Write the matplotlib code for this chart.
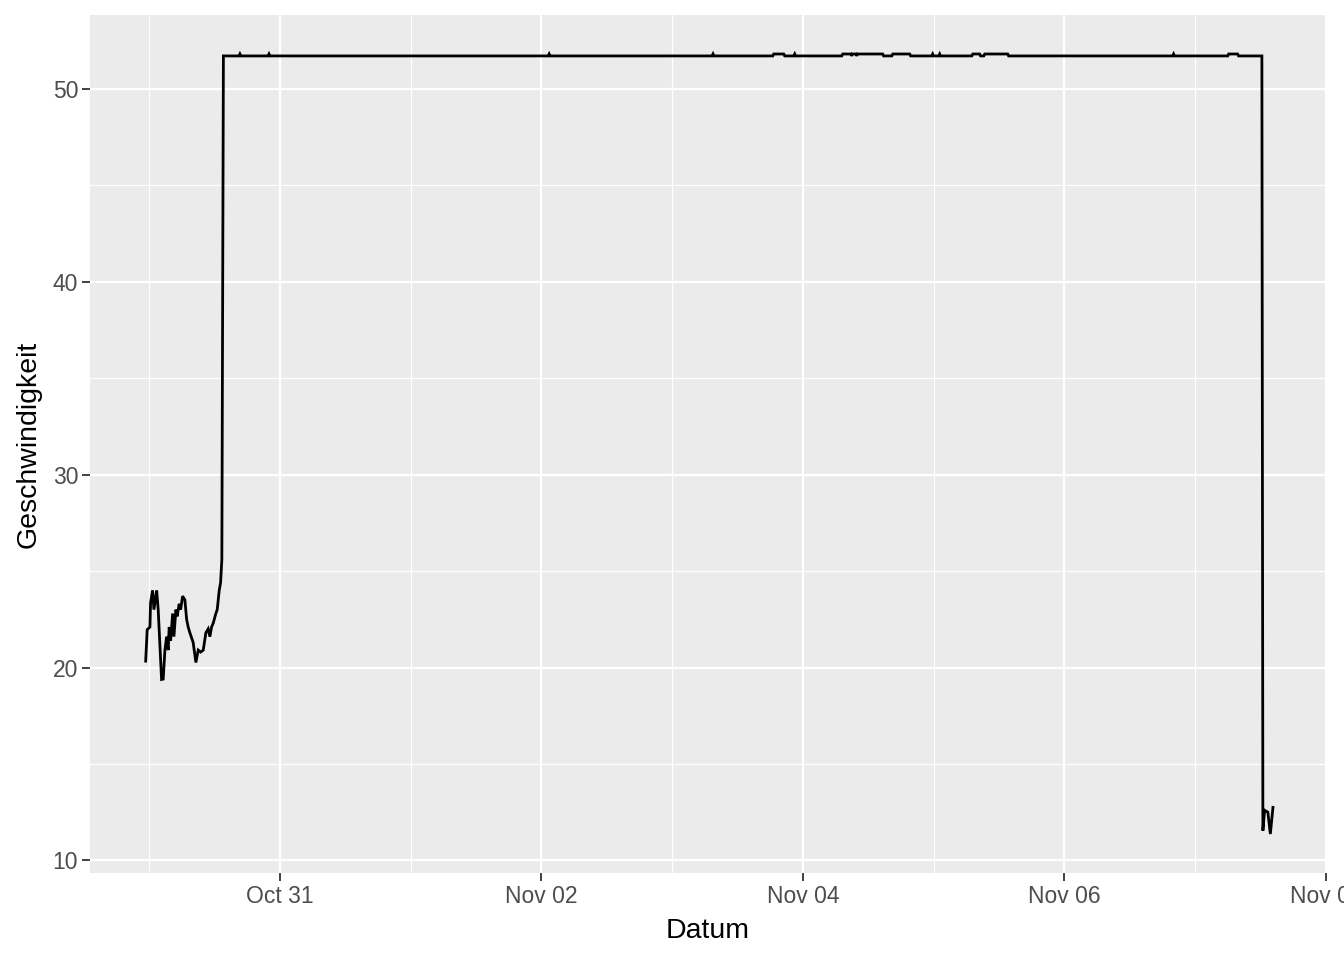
import matplotlib
matplotlib.use("Agg")
import matplotlib.pyplot as plt
import matplotlib.dates as mdates
import numpy as np
import pandas as pd

# ---- data ----
times = [
    "2023-10-29 23:22", "2023-10-29 23:39", "2023-10-30 00:09", "2023-10-30 00:16",
    "2023-10-30 00:38", "2023-10-30 00:53", "2023-10-30 01:23", "2023-10-30 01:40",
    "2023-10-30 02:17", "2023-10-30 02:35", "2023-10-30 02:54", "2023-10-30 03:13",
    "2023-10-30 03:30", "2023-10-30 03:41", "2023-10-30 03:57", "2023-10-30 04:19",
    "2023-10-30 04:33", "2023-10-30 04:55", "2023-10-30 05:09", "2023-10-30 05:31",
    "2023-10-30 05:47", "2023-10-30 06:09", "2023-10-30 06:34", "2023-10-30 06:53",
    "2023-10-30 07:10", "2023-10-30 07:29", "2023-10-30 08:05", "2023-10-30 08:35",
    "2023-10-30 09:01", "2023-10-30 09:27", "2023-10-30 09:56", "2023-10-30 10:25",
    "2023-10-30 10:50", "2023-10-30 11:09", "2023-10-30 11:28", "2023-10-30 11:46",
    "2023-10-30 12:15", "2023-10-30 12:30", "2023-10-30 12:52", "2023-10-30 13:07",
    "2023-10-30 13:21", "2023-10-30 13:38",
    "2023-10-30 16:30", "2023-10-30 16:40", "2023-10-30 16:50",
    "2023-10-30 21:50", "2023-10-30 22:00", "2023-10-30 22:10",
    "2023-11-02 01:15", "2023-11-02 01:25", "2023-11-02 01:35",
    "2023-11-03 07:20", "2023-11-03 07:30", "2023-11-03 07:40",
    "2023-11-03 18:28", "2023-11-03 18:38", "2023-11-03 20:29", "2023-11-03 20:39",
    "2023-11-03 22:20", "2023-11-03 22:30", "2023-11-03 22:40",
    "2023-11-04 07:08", "2023-11-04 07:18", "2023-11-04 08:50", "2023-11-04 08:57",
    "2023-11-04 09:04", "2023-11-04 09:45", "2023-11-04 09:52", "2023-11-04 09:59",
    "2023-11-04 14:38", "2023-11-04 14:48",
    "2023-11-04 16:19", "2023-11-04 16:29", "2023-11-04 19:36", "2023-11-04 19:46",
    "2023-11-04 23:39", "2023-11-04 23:49", "2023-11-04 23:59",
    "2023-11-05 00:56", "2023-11-05 01:06", "2023-11-05 01:16",
    "2023-11-05 07:00", "2023-11-05 07:10", "2023-11-05 08:26", "2023-11-05 08:36",
    "2023-11-05 09:12", "2023-11-05 09:22", "2023-11-05 13:35", "2023-11-05 13:45",
    "2023-11-06 19:52", "2023-11-06 20:02", "2023-11-06 20:12",
    "2023-11-07 05:58", "2023-11-07 06:08", "2023-11-07 07:47", "2023-11-07 07:57",
    "2023-11-07 12:14", "2023-11-07 12:25", "2023-11-07 12:44", "2023-11-07 13:20",
    "2023-11-07 13:47", "2023-11-07 14:16",
]
speed = [
    20.33, 21.96, 22.1, 23.36,
    24.0, 23.0, 24.0, 23.0,
    19.38, 19.4, 20.9, 21.6,
    20.9, 22.1, 21.4, 22.8,
    21.6, 23.0, 22.65, 23.3,
    23.0, 23.7, 23.5, 22.5,
    22.1, 21.8, 21.3, 20.26,
    20.9, 20.8, 20.9, 21.8,
    22.0, 21.6, 22.1, 22.3,
    22.8, 23.0, 24.0, 24.4,
    25.6, 51.7,
    51.7, 51.8, 51.7,
    51.7, 51.8, 51.7,
    51.7, 51.8, 51.7,
    51.7, 51.8, 51.7,
    51.7, 51.8, 51.8, 51.7,
    51.7, 51.8, 51.7,
    51.7, 51.8, 51.8, 51.7,
    51.8, 51.8, 51.7, 51.8,
    51.8, 51.7,
    51.7, 51.8, 51.8, 51.7,
    51.7, 51.8, 51.7,
    51.7, 51.8, 51.7,
    51.7, 51.8, 51.8, 51.7,
    51.7, 51.8, 51.8, 51.7,
    51.7, 51.8, 51.7,
    51.7, 51.8, 51.8, 51.7,
    51.7, 11.54, 12.6, 12.5,
    11.37, 12.75,
]
tick_dates = ["2023-10-31", "2023-11-02", "2023-11-04", "2023-11-06", "2023-11-08"]
minor_dates = ["2023-10-30", "2023-11-01", "2023-11-03", "2023-11-05", "2023-11-07"]
y_ticks = [10, 20, 30, 40, 50]
y_minor = [15, 25, 35, 45]
x_title = "Datum"
y_title = "Geschwindigkeit"

# ---- plot ----
plt.rcParams["font.family"] = ["Liberation Sans", "DejaVu Sans"]
t = pd.to_datetime(times)
tn = mdates.date2num(t.to_pydatetime())

fig = plt.figure(figsize=(13.44, 9.6), dpi=100)
ax = fig.add_axes([90 / 1344, 87 / 960, (1326 - 90) / 1344, (873 - 15) / 960])
ax.set_facecolor("#EBEBEB")
for s in ax.spines.values():
    s.set_visible(False)

ax.plot(tn, speed, color="black", lw=2.0, solid_joinstyle="miter", zorder=3)

# limits
x0 = mdates.date2num(pd.Timestamp("2023-10-29 13:09"))
x1 = mdates.date2num(pd.Timestamp("2023-11-08 00:00"))
ax.set_xlim(x0, x1)
ymin, ymax = min(speed), max(speed)
pad = (ymax - ymin) * 0.05
ax.set_ylim(ymin - pad, ymax + pad)

major_x = mdates.date2num(pd.to_datetime(tick_dates).to_pydatetime())
minor_x = mdates.date2num(pd.to_datetime(minor_dates).to_pydatetime())
ax.set_xticks(major_x)
ax.set_xticklabels(pd.to_datetime(tick_dates).strftime("%b %d"))
ax.set_xticks(minor_x, minor=True)
ax.set_yticks(y_ticks)
ax.set_yticks(y_minor, minor=True)

ax.grid(which="major", color="white", lw=1.6, zorder=1)
ax.grid(which="minor", color="white", lw=0.8, zorder=1)
ax.set_axisbelow(True)

ax.tick_params(which="major", length=5.5, width=1.3, color="#333333",
               labelcolor="#4D4D4D", labelsize=16.5, pad=3)
ax.tick_params(which="minor", length=0)

ax.set_xlabel(x_title, fontsize=20.5, color="black", labelpad=7)
ax.set_ylabel(y_title, fontsize=20.5, color="black", labelpad=8)

fig.savefig("out.png", dpi=100)
